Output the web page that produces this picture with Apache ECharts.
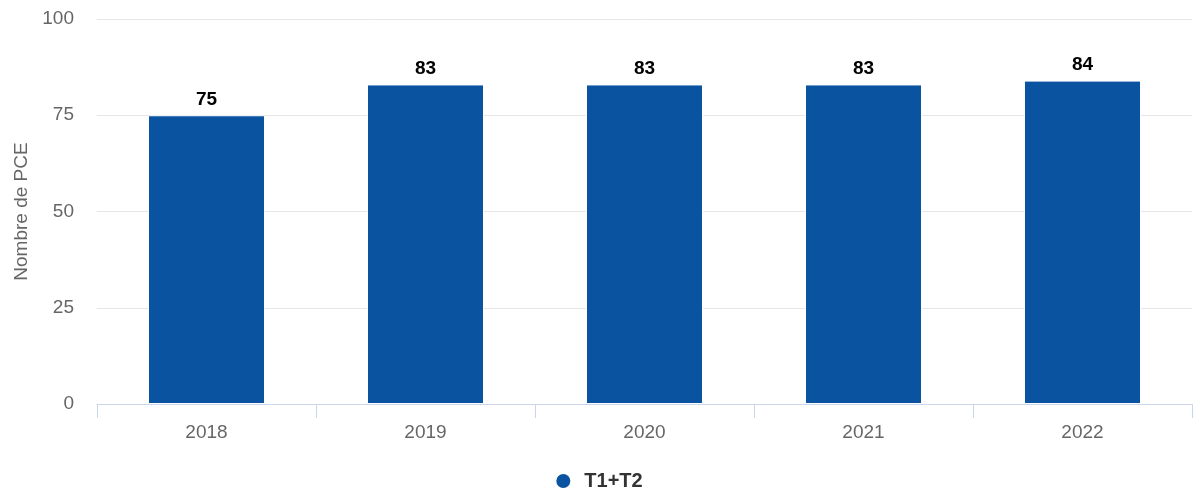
<!DOCTYPE html>
<html>
<head>
    <meta charset="utf-8">
    <title>Nombre de PCE</title>
    <script src="https://cdn.jsdelivr.net/npm/echarts@6/dist/echarts.min.js"></script>
    <style>
        body { margin: 0; background: #fff; }
    </style>
</head>
<body>
    <div id="chart" style="width: 1197px;height:496px;"></div>
    <script type="text/javascript">
        var years = ['2018', '2019', '2020', '2021', '2022'];
        var pceValues = [75, 83, 83, 83, 84];
        var seriesName = 'T1+T2';
        var yTicks = [0, 25, 50, 75, 100];

        var myChart = echarts.init(document.getElementById('chart'));

        var option = {
            animation: false,
            textStyle: { fontFamily: 'Liberation Sans, Arial, sans-serif' },
            grid: { left: 97, right: 5, top: 19, bottom: 92, outerBoundsMode: 'none' },
            legend: {
                data: [seriesName],
                bottom: 0,
                left: 'center',
                icon: 'circle',
                itemWidth: 16,
                itemHeight: 16,
                textStyle: { fontSize: 20, fontWeight: 'bold', color: '#333', padding: [0, 0, 0, 8] }
            },
            xAxis: {
                type: 'category',
                data: years,
                axisLine: { lineStyle: { color: '#ccd6eb' } },
                axisTick: { show: true, length: 14, lineStyle: { color: '#ccd6eb' } },
                axisLabel: { color: '#666', fontSize: 19, margin: 19 }
            },
            yAxis: {
                type: 'value',
                min: yTicks[0],
                max: yTicks[yTicks.length - 1],
                interval: 25,
                name: 'Nombre de PCE',
                nameLocation: 'middle',
                nameGap: 66,
                nameTextStyle: { color: '#666', fontSize: 19 },
                axisLine: { show: false },
                axisTick: { show: false },
                axisLabel: { color: '#666', fontSize: 19, margin: 23 },
                splitLine: { lineStyle: { color: '#e6e6e6' } }
            },
            series: [
                {
                    name: seriesName,
                    type: 'bar',
                    data: pceValues,
                    barWidth: 117,
                    itemStyle: { color: '#0a53a1', borderColor: '#fff', borderWidth: 1 },
                    label: {
                        show: true,
                        position: 'top',
                        distance: 6,
                        color: '#000',
                        fontWeight: 'bold',
                        fontSize: 19
                    }
                }
            ]
        };

        myChart.setOption(option);
    </script>
</body>
</html>
